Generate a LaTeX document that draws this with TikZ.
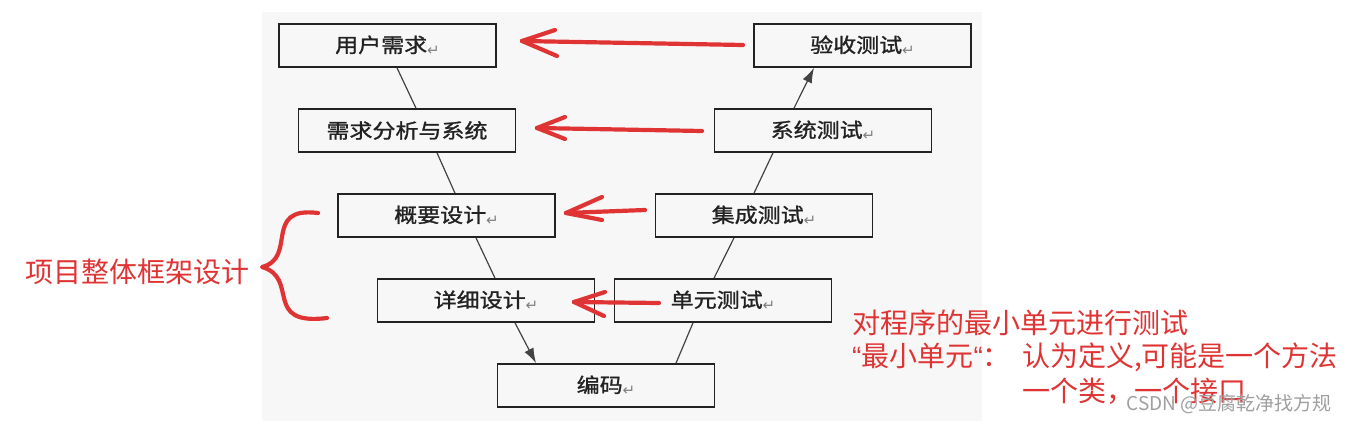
\documentclass[tikz,border=0pt]{standalone}
\usepackage{fontspec}
\setmainfont{Liberation Sans}
\newfontfamily\cjk{Noto Sans CJK SC}
\newfontfamily\boxcjk[FakeStretch=1.15,FakeBold=1.2]{Noto Sans CJK SC}
\newfontfamily\dv{DejaVu Sans}
\usetikzlibrary{arrows.meta}
\definecolor{bg}{HTML}{F7F7F7}
\definecolor{pen}{HTML}{E03434}
\definecolor{ink}{HTML}{222222}
\newcommand\retmark{{\dv\fontsize{15}{15}\selectfont\color{gray}\raisebox{-3pt}{↵}}}
\newcommand\myquote{{\rmfamily “}}
\begin{document}
\begin{tikzpicture}[x=1pt,y=-1pt,
 vbox/.style={draw=ink, line width=1.7pt, minimum width=217pt, minimum height=43pt, inner sep=0pt, font=\boxcjk\fontsize{20}{22}\selectfont, text=ink},
 link/.style={draw=ink!85, line width=1.2pt},
 tip/.style={-{Latex[length=15pt,width=10pt]}},
 redpen/.style={draw=pen, line width=4.2pt, line cap=round, line join=round},
 note/.style={text=pen, font=\cjk\fontsize{28}{30}\selectfont, inner sep=0pt, anchor=west}]
\useasboundingbox (0,0) rectangle (1347,423);
\fill[white] (0,0) rectangle (1347,423);
\fill[bg] (262,12) rectangle (982,421);

% boxes
\node[vbox] (u) at (387.5,45.5) {用户需求\retmark};
\node[vbox] (ys) at (862.5,45.5) {验收测试\retmark};
\node[vbox] (x) at (407,130.5) {需求分析与系统};
\node[vbox] (xt) at (823,130.5) {系统测试\retmark};
\node[vbox] (g) at (446.5,215.5) {概要设计\retmark};
\node[vbox] (jc) at (764,215.5) {集成测试\retmark};
\node[vbox] (d) at (486,300.5) {详细设计\retmark};
\node[vbox] (dy) at (723,300.5) {单元测试\retmark};
\node[vbox] (b) at (606,385.5) {编码\retmark};

% V connectors
\draw[link] ([xshift=9.5pt]u.south) -- ([xshift=9pt]x.north);
\draw[link] ([xshift=30pt]x.south) -- ([xshift=8.5pt]g.north);
\draw[link] ([xshift=29.5pt]g.south) -- ([xshift=9pt]d.north);
\draw[link,tip] ([xshift=29pt]d.south) -- ([xshift=-70pt]b.north);
\draw[link] ([xshift=70pt]b.north) -- ([xshift=-30pt]dy.south);
\draw[link] ([xshift=-9pt]dy.north) -- ([xshift=-30pt]jc.south);
\draw[link] ([xshift=-10pt]jc.north) -- ([xshift=-50pt]xt.south);
\draw[link,tip] ([xshift=-29pt]xt.north) -- ([xshift=-48.5pt]ys.south);

% red hand-drawn arrows
\coordinate (t1) at (743,45); \coordinate (h1) at (522,41);
\draw[redpen] (t1) -- (h1); \draw[redpen] (h1) -- ++(33,-11); \draw[redpen] (h1) -- ++(35,15);
\coordinate (t2) at (702,131); \coordinate (h2) at (537,128);
\draw[redpen] (t2) -- (h2); \draw[redpen] (h2) -- ++(28,-11); \draw[redpen] (h2) -- ++(28,11);
\coordinate (t3) at (645,210); \coordinate (h3) at (566,213);
\draw[redpen] (t3) -- (h3); \draw[redpen] (h3) -- ++(36,-16); \draw[redpen] (h3) -- ++(36,7);
\coordinate (t4) at (659,303); \coordinate (h4) at (574,302);
\draw[redpen] (t4) -- (h4); \draw[redpen] (h4) -- ++(31,-10); \draw[redpen] (h4) -- ++(30,14);

% brace
\draw[redpen] (318,213) .. controls (262,206) and (298,258) .. (262,267)
  .. controls (300,278) and (262,326) .. (327,318);

% notes
\node[note, anchor=center] (n0) at (137,272) {项目整体框架设计};
\node[note] (n1) at (852,323) {对程序的最小单元进行测试};
\node[note] (n2) at (852,357) {\makebox[170pt][l]{\myquote 最小单元\myquote ：}认为定义,可能是一个方法};
\node[note] (n3) at (1022,391) {一个类，一个接口};
\node[text=gray!75, font=\cjk\fontsize{19}{20}\selectfont, inner sep=0pt, anchor=east] (wm) at (1332,404) {CSDN @豆腐乾净找方规};
\end{tikzpicture}
\end{document}
